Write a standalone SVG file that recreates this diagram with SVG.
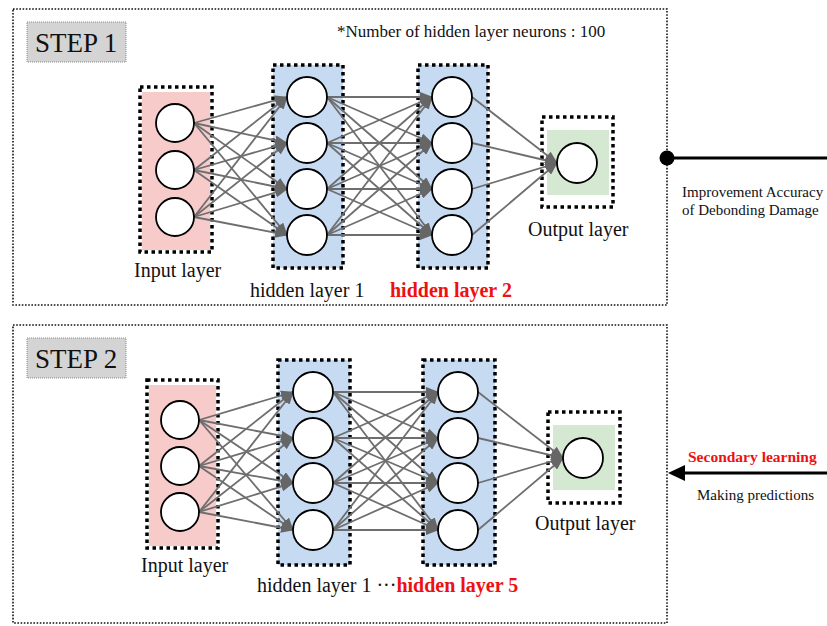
<svg xmlns="http://www.w3.org/2000/svg" width="827" height="626" viewBox="0 0 827 626">
  <style>
    .panel { fill: #ffffff; stroke: #111111; stroke-width: 1.6; stroke-dasharray: 1.6 1.6; }
    .tag { fill: #d4d4d4; stroke: #8a8a8a; stroke-width: 1; stroke-dasharray: 1 1; }
    .frame { fill: none; stroke: #000000; stroke-width: 3.5; stroke-dasharray: 3.5 3.5; }
    .pink { fill: #f8cbcb; }
    .blue { fill: #c6daf2; }
    .green { fill: #d5e9d2; }
    .neuron { fill: #ffffff; stroke: #000000; stroke-width: 1.8; }
    .edge { stroke: #6e6e6e; stroke-width: 1.8; fill: none; marker-end: url(#head); }
    .t { font-family: "Liberation Serif", "Times New Roman", serif; fill: #111111; }
    .red { fill: #ee1111; font-weight: bold; }
  </style>
  <defs>
    <marker id="head" markerUnits="userSpaceOnUse" markerWidth="13" markerHeight="10" refX="12" refY="5" orient="auto">
      <path d="M0,0 L13,5 L0,10 z" fill="#666666"/>
    </marker>
  </defs>

  <rect width="827" height="626" fill="#ffffff"/>

  <!-- panel frames -->
  <rect class="panel" x="13" y="9" width="654" height="296"/>
  <rect class="panel" x="13" y="325" width="654" height="298"/>

  <!-- step tags -->
  <g id="step1-tag">
    <rect class="tag" x="27" y="22" width="99" height="40"/>
    <text class="t" x="35" y="52" font-size="27">STEP 1</text>
  </g>
  <g id="step2-tag">
    <rect class="tag" x="27" y="338" width="99" height="40"/>
    <text class="t" x="35" y="368" font-size="27">STEP 2</text>
  </g>

  <text class="t" x="337" y="37" font-size="17">*Number of hidden layer neurons : 100</text>

  <!-- STEP 1 network -->
  <g id="s1-input">
    <rect class="pink" x="142" y="92" width="68" height="158"/>
    <rect class="frame" x="140" y="87" width="72" height="165"/>
  </g>
  <g id="s1-hidden1">
    <rect class="blue" x="273" y="65" width="70" height="203"/>
    <rect class="frame" x="273" y="65" width="70" height="203"/>
  </g>
  <g id="s1-hidden2">
    <rect class="blue" x="418" y="65" width="70" height="203"/>
    <rect class="frame" x="418" y="65" width="70" height="203"/>
  </g>
  <g id="s1-output">
    <rect class="green" x="547" y="130" width="62" height="65"/>
    <rect class="frame" x="542" y="117" width="71" height="90"/>
  </g>

  <!-- STEP 2 network -->
  <g id="s2-input">
    <rect class="pink" x="149" y="385" width="67" height="161"/>
    <rect class="frame" x="147" y="380" width="71" height="168"/>
  </g>
  <g id="s2-hidden1">
    <rect class="blue" x="278" y="360" width="72" height="205"/>
    <rect class="frame" x="278" y="360" width="72" height="205"/>
  </g>
  <g id="s2-hidden5">
    <rect class="blue" x="423" y="360" width="72" height="205"/>
    <rect class="frame" x="423" y="360" width="72" height="205"/>
  </g>
  <g id="s2-output">
    <rect class="green" x="553" y="425" width="62" height="65"/>
    <rect class="frame" x="548" y="412" width="72" height="91"/>
  </g>

  <!-- connectors -->
  <g id="connectors">
    <!-- step 1: input -> hidden 1 -->
    <path class="edge" d="M194,123 L287,97"/>
    <path class="edge" d="M194,123 L287,143"/>
    <path class="edge" d="M194,123 L287,189"/>
    <path class="edge" d="M194,123 L287,235"/>
    <path class="edge" d="M194,170 L287,97"/>
    <path class="edge" d="M194,170 L287,143"/>
    <path class="edge" d="M194,170 L287,189"/>
    <path class="edge" d="M194,170 L287,235"/>
    <path class="edge" d="M194,217 L287,97"/>
    <path class="edge" d="M194,217 L287,143"/>
    <path class="edge" d="M194,217 L287,189"/>
    <path class="edge" d="M194,217 L287,235"/>
    <!-- step 1: hidden 1 -> hidden 2 -->
    <path class="edge" d="M327,97 L432,97"/>
    <path class="edge" d="M327,97 L432,143"/>
    <path class="edge" d="M327,97 L432,189"/>
    <path class="edge" d="M327,97 L432,235"/>
    <path class="edge" d="M327,143 L432,97"/>
    <path class="edge" d="M327,143 L432,143"/>
    <path class="edge" d="M327,143 L432,189"/>
    <path class="edge" d="M327,143 L432,235"/>
    <path class="edge" d="M327,189 L432,97"/>
    <path class="edge" d="M327,189 L432,143"/>
    <path class="edge" d="M327,189 L432,189"/>
    <path class="edge" d="M327,189 L432,235"/>
    <path class="edge" d="M327,235 L432,97"/>
    <path class="edge" d="M327,235 L432,143"/>
    <path class="edge" d="M327,235 L432,189"/>
    <path class="edge" d="M327,235 L432,235"/>
    <!-- step 1: hidden 2 -> output -->
    <path class="edge" d="M472,97 L557,163"/>
    <path class="edge" d="M472,143 L557,163"/>
    <path class="edge" d="M472,189 L557,163"/>
    <path class="edge" d="M472,235 L557,163"/>

    <!-- step 2: input -> hidden 1 -->
    <path class="edge" d="M199,420 L293,392"/>
    <path class="edge" d="M199,420 L293,438"/>
    <path class="edge" d="M199,420 L293,483"/>
    <path class="edge" d="M199,420 L293,530"/>
    <path class="edge" d="M199,466 L293,392"/>
    <path class="edge" d="M199,466 L293,438"/>
    <path class="edge" d="M199,466 L293,483"/>
    <path class="edge" d="M199,466 L293,530"/>
    <path class="edge" d="M199,512 L293,392"/>
    <path class="edge" d="M199,512 L293,438"/>
    <path class="edge" d="M199,512 L293,483"/>
    <path class="edge" d="M199,512 L293,530"/>
    <!-- step 2: hidden 1 -> hidden 5 -->
    <path class="edge" d="M333,392 L438,392"/>
    <path class="edge" d="M333,392 L438,438"/>
    <path class="edge" d="M333,392 L438,483"/>
    <path class="edge" d="M333,392 L438,530"/>
    <path class="edge" d="M333,438 L438,392"/>
    <path class="edge" d="M333,438 L438,438"/>
    <path class="edge" d="M333,438 L438,483"/>
    <path class="edge" d="M333,438 L438,530"/>
    <path class="edge" d="M333,483 L438,392"/>
    <path class="edge" d="M333,483 L438,438"/>
    <path class="edge" d="M333,483 L438,483"/>
    <path class="edge" d="M333,483 L438,530"/>
    <path class="edge" d="M333,530 L438,392"/>
    <path class="edge" d="M333,530 L438,438"/>
    <path class="edge" d="M333,530 L438,483"/>
    <path class="edge" d="M333,530 L438,530"/>
    <!-- step 2: hidden 5 -> output -->
    <path class="edge" d="M478,392 L563,458"/>
    <path class="edge" d="M478,438 L563,458"/>
    <path class="edge" d="M478,483 L563,458"/>
    <path class="edge" d="M478,530 L563,458"/>
  </g>

  <!-- neurons -->
  <g id="neurons">
    <circle class="neuron" cx="175" cy="123" r="19"/>
    <circle class="neuron" cx="175" cy="170" r="19"/>
    <circle class="neuron" cx="175" cy="217" r="19"/>
    <circle class="neuron" cx="307" cy="97" r="20"/>
    <circle class="neuron" cx="307" cy="143" r="20"/>
    <circle class="neuron" cx="307" cy="189" r="20"/>
    <circle class="neuron" cx="307" cy="235" r="20"/>
    <circle class="neuron" cx="452" cy="97" r="20"/>
    <circle class="neuron" cx="452" cy="143" r="20"/>
    <circle class="neuron" cx="452" cy="189" r="20"/>
    <circle class="neuron" cx="452" cy="235" r="20"/>
    <circle class="neuron" cx="577" cy="163" r="20"/>

    <circle class="neuron" cx="180" cy="420" r="19"/>
    <circle class="neuron" cx="180" cy="466" r="19"/>
    <circle class="neuron" cx="180" cy="512" r="19"/>
    <circle class="neuron" cx="313" cy="392" r="20"/>
    <circle class="neuron" cx="313" cy="438" r="20"/>
    <circle class="neuron" cx="313" cy="483" r="20"/>
    <circle class="neuron" cx="313" cy="530" r="20"/>
    <circle class="neuron" cx="458" cy="392" r="20"/>
    <circle class="neuron" cx="458" cy="438" r="20"/>
    <circle class="neuron" cx="458" cy="483" r="20"/>
    <circle class="neuron" cx="458" cy="530" r="20"/>
    <circle class="neuron" cx="583" cy="458" r="20"/>
  </g>

  <!-- layer labels -->
  <text class="t" x="134" y="277" font-size="20">Input layer</text>
  <text class="t" x="250" y="297" font-size="20">hidden layer 1</text>
  <text class="t red" x="390" y="297" font-size="20">hidden layer 2</text>
  <text class="t" x="528" y="236" font-size="20">Output layer</text>

  <text class="t" x="141" y="572" font-size="20">Input layer</text>
  <text class="t" x="257" y="592" font-size="20">hidden layer 1 ···<tspan class="red">hidden layer 5</tspan></text>
  <text class="t" x="535" y="530" font-size="20">Output layer</text>

  <!-- side annotations -->
  <g id="s1-link">
    <line x1="667" y1="158" x2="827" y2="158" stroke="#000000" stroke-width="3"/>
    <circle cx="667" cy="158" r="7.5" fill="#000000"/>
    <text class="t" x="682" y="197" font-size="15">Improvement Accuracy</text>
    <text class="t" x="682" y="215" font-size="15">of Debonding Damage</text>
  </g>
  <g id="s2-link">
    <line x1="682" y1="473" x2="827" y2="473" stroke="#000000" stroke-width="3"/>
    <path d="M668,473 L685,465 L685,481 z" fill="#000000"/>
    <text class="t red" x="688" y="462" font-size="15.5">Secondary learning</text>
    <text class="t" x="697" y="500" font-size="15">Making predictions</text>
  </g>
</svg>
